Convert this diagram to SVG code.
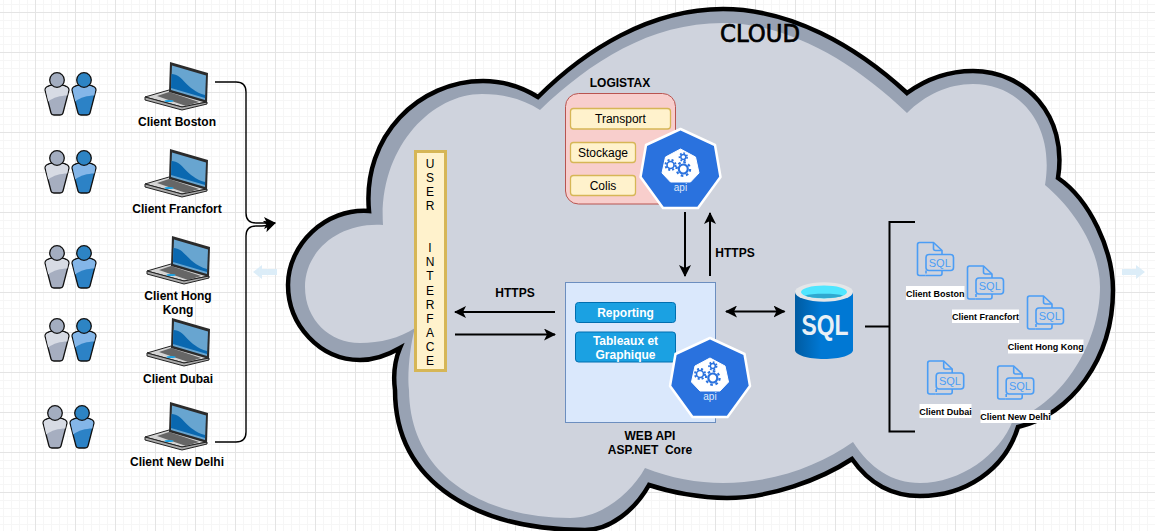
<svg xmlns="http://www.w3.org/2000/svg" width="1155" height="531" viewBox="0 0 1155 531">
<style>
text{font-family:"Liberation Sans",Arial,sans-serif;fill:#000}
.lb{font-size:12px;font-weight:bold;text-anchor:middle}
.rg{font-size:12px;text-anchor:middle}
.wh{font-size:12px;font-weight:bold;text-anchor:middle;fill:#fff}
.sm{font-size:9px;font-weight:bold;text-anchor:middle}
.y{fill:#fff2cc;stroke:#d6b656;stroke-width:1.3}
.b{fill:#1ba1e2;stroke:#006eaf;stroke-width:1}
.c{fill:none;stroke:#000;stroke-width:2}
.t{fill:none;stroke:#000;stroke-width:1.4}
.sq{fill:none;stroke:#4b9df5;stroke-width:1.6;stroke-linejoin:round}
</style>
<defs>
<pattern id="grid" x="35" y="12" width="40" height="40" patternUnits="userSpaceOnUse">
<path d="M8.5 0V40M16.5 0V40M24.5 0V40M32.5 0V40M0 8.5H40M0 16.5H40M0 24.5H40M0 32.5H40" stroke="#f6f6f6" stroke-width="1" fill="none"/>
<path d="M.5 0V40M0 .5H40" stroke="#e4e4e4" stroke-width="1" fill="none"/>
</pattern>
<marker id="a" viewBox="0 0 12 12" refX="11" refY="6" markerWidth="12" markerHeight="12" markerUnits="userSpaceOnUse" orient="auto-start-reverse"><path d="M0 0L12 6L0 12L3 6Z"/></marker>
<linearGradient id="cyl" x1="0" x2="1" y1="0" y2="0"><stop offset="0" stop-color="#005ba1"/><stop offset=".45" stop-color="#0078d4"/><stop offset="1" stop-color="#0078d4"/></linearGradient>
<path id="body" d="M-5 5C-9 6-12 7-12 10L-6 33Q-5.500 35-3 35L3 35Q5.500 35 6 33L12 10C12 7 9 6 5 5Z" stroke="#111" stroke-width="1.300"/>
<path id="shine" d="M-5 5.700C-9 6.700-11.300 7.500-11.300 10L-8.800 21.500C-4 17.500 4 15.500 10.300 15.500L11.300 10C11.300 7.500 9 6.700 5 5.700Z"/>
<g id="people">
<use href="#body" fill="#a6aec0"/><use href="#shine" fill="#d7dbe4"/><circle r="7.300" fill="#a3adc0" stroke="#111" stroke-width="1.300"/>
<g transform="translate(27 0)"><use href="#body" fill="#2c82c6"/><use href="#shine" fill="#84b6e8"/><circle r="7.300" fill="#2d84c4" stroke="#111" stroke-width="1.300"/></g>
</g>
<g id="laptop">
<path d="M-25 35L-1 28L37 40L12 45Z" fill="#d4d4d4" stroke="#222" stroke-width="1" stroke-linejoin="round"/>
<path d="M-25 35L12 45L37 40L37 42L12 48L-25 38Z" fill="#aaa" stroke="#222" stroke-width="1" stroke-linejoin="round"/>
<path d="M-13 34L-1 30L29 40L16 44Z" fill="#666"/>
<ellipse cx="-1" cy="39" rx="4.500" ry="1" fill="#1ba1e2"/>
<path d="M0 0L38 11L37 41L-1 30Z" fill="#2b2b2b"/>
<path d="M2 3.500L36 13.500L35 38L1 28Z" fill="#68a5d0"/>
<path d="M1.500 12C13 12 16 28 35 33L35 36L1 26Z" fill="#0a68b0"/>
</g>
<g id="api">
<path d="M0-41L34.500-25L40 7L17.500 38H-17.500L-40 7L-34.500-25Z" fill="#2a72de" stroke="#fff" stroke-width="2.500" stroke-linejoin="round"/>
<path d="M0-21L15-13L18.500 3L10 12H-10L-18.500 3L-15-13Z" fill="#fff" stroke="#fff" stroke-linejoin="round"/>
<g fill="none" stroke="#2a72de">
<circle cx="-10" cy="-5" r="3.500" stroke-width="1.600"/><circle cx="-10" cy="-5" r="5" stroke-width="2" stroke-dasharray="2 2"/>
<circle cx="2.800" cy="-1" r="4.500" stroke-width="2.200"/><circle cx="2.800" cy="-1" r="6.800" stroke-width="2.200" stroke-dasharray="2.600 2.700"/>
<circle cx="2.800" cy="-13" r="2.500" stroke-width="1.500"/><circle cx="2.800" cy="-13" r="3.800" stroke-width="1.700" stroke-dasharray="1.700 1.800"/>
</g>
</g>
<g id="sqlfile">
<path class="sq" d="M8.500 28V31a2 2 0 0 1 0 0M8 33H2a2 2 0 0 1-2-2V2a2 2 0 0 1 2-2H16L24.500 8V12"/>
<path class="sq" d="M16 .5V6a2 2 0 0 0 2 2H24.500"/>
<rect class="sq" x="8.500" y="12" width="27.500" height="16" rx="3"/>
<path class="sq" d="M24.500 28V31a2 2 0 0 1-2 2H8"/>
<text x="22.300" y="24.200" font-size="11" text-anchor="middle" style="fill:#4b9df5">SQL</text>
</g>
</defs>
<rect id="background" width="1155" height="531" fill="#fff"/>
<rect id="gridlayer" width="1155" height="531" fill="url(#grid)"/>

<g id="hint-arrows" fill="#dcedf8">
<path d="M253 272L262 265V269H277V275H262V279Z"/>
<path d="M1145 272L1136 265V269H1122V275H1136V279Z"/>
</g>

<g id="cloud">
<path fill="#98a2b3" stroke="#000" stroke-width="4.500" stroke-linejoin="miter" d="M538 97C585 50 650 9 723 9C790 9 855 45 907 93C925 80 948 71 973 71C1025 71 1068 115 1058 178C1090 200 1113 250 1113 290C1113 360 1070 415 1018 427C1005 470 965 496 920 496C890 496 868 482 852 459C820 480 770 498 727 498C700 498 670 492 649 485C635 510 610 530 585 530C480 530 395 485 395 390C393 375 395 360 400 348C388 355 375 360 360 360C320 360 288 325 288 285C288 245 325 208 369 211C362 135 420 81 483 81C505 81 522 87 538 97Z"/>
<path fill="#cfd3dd" d="M540 110C590 62 650 23 723 23C785 23 850 58 907 113C925 95 948 84 973 84C1020 84 1055 125 1045 185C1075 210 1100 250 1100 287C1100 345 1060 405 1013 420C1000 455 960 483 920 483C892 483 870 468 853 442C820 465 775 483 723 483C698 483 670 478 645 468C630 495 600 518 570 518C490 518 410 480 409 390C407 375 410 345 415 328C400 338 380 343 360 343C330 343 305 320 305 287C305 250 340 222 383 225C378 150 430 94 482 94C505 94 525 100 540 110Z"/>
<text x="760" y="42" font-size="24" text-anchor="middle" textLength="80" lengthAdjust="spacingAndGlyphs" style="font-family:'Comic Sans MS','DejaVu Sans',sans-serif" stroke="#000" stroke-width=".7">CLOUD</text>
</g>

<g id="connectors">
<path class="t" marker-end="url(#a)" d="M215 82H236Q246 82 246 92V213Q246 223 256 223H275"/>
<path class="t" marker-end="url(#a)" d="M215 442H236Q246 442 246 432V236Q246 226 256 226H262Q266 226 275 223"/>
<path class="c" marker-end="url(#a)" d="M685 212V276"/>
<path class="c" marker-end="url(#a)" d="M710 276V213"/>
<path class="c" marker-end="url(#a)" d="M555 312H455"/>
<path class="c" marker-end="url(#a)" d="M455 334.500H555"/>
<path class="c" marker-start="url(#a)" marker-end="url(#a)" d="M726 311.500H784.500"/>
<path class="c" d="M865 326.500H889.500M915 222H889.500V431.500H915"/>
</g>

<g id="users">
<use href="#people" x="57" y="80"/>
<use href="#people" x="57" y="158"/>
<use href="#people" x="57" y="253"/>
<use href="#people" x="57" y="326"/>
<use href="#people" x="55" y="413"/>
</g>

<g id="client-boston"><use href="#laptop" x="170" y="62"/><text class="lb" x="177" y="126">Client Boston</text></g>
<g id="client-francfort"><use href="#laptop" x="170" y="149"/><text class="lb" x="177" y="213">Client Francfort</text></g>
<g id="client-hong-kong"><use href="#laptop" x="172" y="236"/><text class="lb" x="178" y="300">Client Hong</text><text class="lb" x="178" y="314">Kong</text></g>
<g id="client-dubai"><use href="#laptop" x="172" y="318"/><text class="lb" x="178" y="383">Client Dubai</text></g>
<g id="client-new-delhi"><use href="#laptop" x="170" y="402"/><text class="lb" x="177" y="466">Client New Delhi</text></g>

<g id="user-interface">
<rect x="415.500" y="151.500" width="30" height="219" fill="#fff2cc" stroke="#d6b656" stroke-width="3"/>
<text class="rg"><tspan x="430" y="167.500">U</tspan><tspan x="430" y="181.500">S</tspan><tspan x="430" y="196">E</tspan><tspan x="430" y="210">R</tspan><tspan x="430" y="252">I</tspan><tspan x="430" y="266">N</tspan><tspan x="430" y="280">T</tspan><tspan x="430" y="294.500">E</tspan><tspan x="430" y="308.500">R</tspan><tspan x="430" y="322.500">F</tspan><tspan x="430" y="336.500">A</tspan><tspan x="430" y="350.500">C</tspan><tspan x="430" y="364.500">E</tspan></text>
</g>

<g id="logistax">
<text class="lb" x="620" y="87">LOGISTAX</text>
<rect x="565.500" y="93.500" width="110" height="110.500" rx="13" fill="#f8cecc" stroke="#b85450"/>
<rect class="y" x="570.500" y="108.500" width="100" height="20.500" rx="3"/><text class="rg" x="620.500" y="123">Transport</text>
<rect class="y" x="570.500" y="142.500" width="65" height="20" rx="3"/><text class="rg" x="603" y="157">Stockage</text>
<rect class="y" x="570.500" y="175.500" width="65" height="20" rx="3"/><text class="rg" x="603" y="190">Colis</text>
<use href="#api" x="680.500" y="170"/>
<text x="680.500" y="191" font-size="10" text-anchor="middle" style="fill:#dfe8f8">api</text>
</g>
<text class="lb" x="735" y="257">HTTPS</text>
<text class="lb" x="515" y="297">HTTPS</text>

<g id="web-api">
<rect x="565.500" y="282.500" width="150" height="140" fill="#dae8fc" stroke="#6c8ebf"/>
<rect class="b" x="575.500" y="302.500" width="100" height="20" rx="3"/><text class="wh" x="625.500" y="317">Reporting</text>
<rect class="b" x="575.500" y="332" width="100" height="30" rx="3"/><text class="wh" x="625.500" y="345">Tableaux et</text><text class="wh" x="625.500" y="359">Graphique</text>
<use href="#api" x="710" y="379"/>
<text x="710" y="400" font-size="10" text-anchor="middle" style="fill:#dfe8f8">api</text>
<text class="lb" x="650" y="440">WEB API</text>
<text class="lb" x="650" y="454" xml:space="preserve">ASP.NET  Core</text>
</g>

<g id="sql-database">
<path d="M795 292V350C795 355 808 359 824 359C840 359 853 355 853 350V292Z" fill="url(#cyl)"/>
<ellipse cx="824" cy="292" rx="29" ry="9.700" fill="#e4e6e8"/>
<ellipse cx="824" cy="292" rx="23" ry="6.500" fill="#50e6ff"/>
<path d="M805 295.500C810 293 838 293 843 295.500C838 299 810 299 805 295.500Z" fill="#2fa9d0"/>
<text x="825" y="335" font-size="29" font-weight="bold" text-anchor="middle" textLength="47" lengthAdjust="spacingAndGlyphs" style="fill:#e8f0f6">SQL</text>
</g>

<g id="db-boston"><use href="#sqlfile" x="917.500" y="242.500"/><rect x="906" y="286" width="58.500" height="14" fill="#fff"/><text class="sm" x="935.300" y="296.500">Client Boston</text></g>
<g id="db-francfort"><use href="#sqlfile" x="967.500" y="266"/><rect x="952" y="309.500" width="67" height="13.500" fill="#fff"/><text class="sm" x="985.500" y="319.500">Client Francfort</text></g>
<g id="db-hong-kong"><use href="#sqlfile" x="1027.500" y="296"/><rect x="1008" y="339.500" width="75.500" height="14" fill="#fff"/><text class="sm" x="1045.800" y="350">Client Hong Kong</text></g>
<g id="db-dubai"><use href="#sqlfile" x="927.700" y="361"/><rect x="919.500" y="404" width="52" height="14" fill="#fff"/><text class="sm" x="945.500" y="414.500">Client Dubai</text></g>
<g id="db-new-delhi"><use href="#sqlfile" x="997.700" y="366"/><rect x="980.500" y="410" width="70" height="13" fill="#fff"/><text class="sm" x="1015.500" y="420">Client New Delhi</text></g>
</svg>
